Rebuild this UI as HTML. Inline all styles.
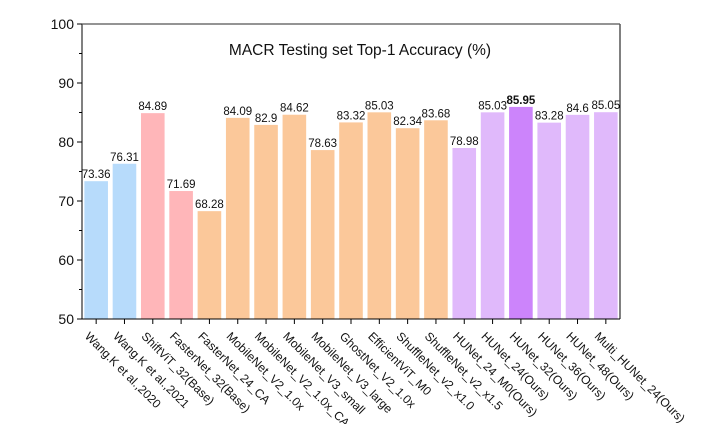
<!DOCTYPE html>
<html><head><meta charset="utf-8"><style>html,body{margin:0;padding:0;background:#fff}svg{display:block}</style></head><body>
<svg width="701" height="424" xmlns="http://www.w3.org/2000/svg" font-family="Liberation Sans, Arial, sans-serif">
<rect width="701" height="424" fill="#fff"/>
<g>
<rect x="84.36" y="181.18" width="23.6" height="137.82" fill="#b7dbfb"/>
<rect x="112.67" y="163.77" width="23.6" height="155.23" fill="#b7dbfb"/>
<rect x="140.99" y="113.15" width="23.6" height="205.85" fill="#ffb6b9"/>
<rect x="169.31" y="191.03" width="23.6" height="127.97" fill="#ffb6b9"/>
<rect x="197.62" y="211.15" width="23.6" height="107.85" fill="#fbc89a"/>
<rect x="225.94" y="117.87" width="23.6" height="201.13" fill="#fbc89a"/>
<rect x="254.25" y="124.89" width="23.6" height="194.11" fill="#fbc89a"/>
<rect x="282.57" y="114.74" width="23.6" height="204.26" fill="#fbc89a"/>
<rect x="310.88" y="150.08" width="23.6" height="168.92" fill="#fbc89a"/>
<rect x="339.20" y="122.41" width="23.6" height="196.59" fill="#fbc89a"/>
<rect x="367.52" y="112.32" width="23.6" height="206.68" fill="#fbc89a"/>
<rect x="395.83" y="128.19" width="23.6" height="190.81" fill="#fbc89a"/>
<rect x="424.15" y="120.29" width="23.6" height="198.71" fill="#fbc89a"/>
<rect x="452.46" y="148.02" width="23.6" height="170.98" fill="#e0b9fb"/>
<rect x="480.78" y="112.32" width="23.6" height="206.68" fill="#e0b9fb"/>
<rect x="509.09" y="106.89" width="23.6" height="212.11" fill="#cc84fb"/>
<rect x="537.41" y="122.65" width="23.6" height="196.35" fill="#e0b9fb"/>
<rect x="565.73" y="114.86" width="23.6" height="204.14" fill="#e0b9fb"/>
<rect x="594.04" y="112.20" width="23.6" height="206.80" fill="#e0b9fb"/>
</g>
<g font-size="11.5" text-anchor="middle" fill="#111">
<text x="96.16" y="178.18">73.36</text>
<text x="124.47" y="160.77">76.31</text>
<text x="152.79" y="110.15">84.89</text>
<text x="181.11" y="188.03">71.69</text>
<text x="209.42" y="208.15">68.28</text>
<text x="237.74" y="114.87">84.09</text>
<text x="266.05" y="121.89">82.9</text>
<text x="294.37" y="111.74">84.62</text>
<text x="322.68" y="147.08">78.63</text>
<text x="351.00" y="119.41">83.32</text>
<text x="379.32" y="109.32">85.03</text>
<text x="407.63" y="125.19">82.34</text>
<text x="435.95" y="117.29">83.68</text>
<text x="464.26" y="145.02">78.98</text>
<text x="492.58" y="109.32">85.03</text>
<text x="520.89" y="103.89" font-weight="bold">85.95</text>
<text x="549.21" y="119.65">83.28</text>
<text x="577.53" y="111.86">84.6</text>
<text x="605.84" y="109.20">85.05</text>
</g>
<g stroke="#000" stroke-width="1">
<line x1="96.16" y1="319" x2="96.16" y2="324"/><line x1="124.47" y1="319" x2="124.47" y2="324"/>
<line x1="152.79" y1="319" x2="152.79" y2="324"/><line x1="181.11" y1="319" x2="181.11" y2="324"/>
<line x1="209.42" y1="319" x2="209.42" y2="324"/><line x1="237.74" y1="319" x2="237.74" y2="324"/>
<line x1="266.05" y1="319" x2="266.05" y2="324"/><line x1="294.37" y1="319" x2="294.37" y2="324"/>
<line x1="322.68" y1="319" x2="322.68" y2="324"/><line x1="351.00" y1="319" x2="351.00" y2="324"/>
<line x1="379.32" y1="319" x2="379.32" y2="324"/><line x1="407.63" y1="319" x2="407.63" y2="324"/>
<line x1="435.95" y1="319" x2="435.95" y2="324"/><line x1="464.26" y1="319" x2="464.26" y2="324"/>
<line x1="492.58" y1="319" x2="492.58" y2="324"/><line x1="520.89" y1="319" x2="520.89" y2="324"/>
<line x1="549.21" y1="319" x2="549.21" y2="324"/><line x1="577.53" y1="319" x2="577.53" y2="324"/>
<line x1="605.84" y1="319" x2="605.84" y2="324"/>
<line x1="77" y1="319" x2="82" y2="319"/><line x1="79" y1="289.5" x2="82" y2="289.5"/>
<line x1="77" y1="260" x2="82" y2="260"/><line x1="79" y1="230.5" x2="82" y2="230.5"/>
<line x1="77" y1="201" x2="82" y2="201"/><line x1="79" y1="171.5" x2="82" y2="171.5"/>
<line x1="77" y1="142" x2="82" y2="142"/><line x1="79" y1="112.5" x2="82" y2="112.5"/>
<line x1="77" y1="83" x2="82" y2="83"/><line x1="79" y1="53.5" x2="82" y2="53.5"/>
<line x1="77" y1="24" x2="82" y2="24"/>
<line x1="82" y1="24" x2="82" y2="319"/>
<line x1="620" y1="24" x2="620" y2="319"/>
<line x1="77" y1="319" x2="620" y2="319"/>
</g>
<line x1="82" y1="24" x2="620" y2="24" stroke="#555" stroke-width="1.2"/>
<g font-size="14" text-anchor="end" fill="#111">
<text x="74" y="324">50</text><text x="74" y="265">60</text><text x="74" y="206">70</text>
<text x="74" y="147">80</text><text x="74" y="88">90</text><text x="74" y="29">100</text>
</g>
<text x="360" y="55" font-size="15.5" text-anchor="middle" fill="#111">MACR Testing set Top-1 Accuracy (%)</text>
<g font-size="12" fill="#111">
<text transform="translate(84.16,337) rotate(45)">Wang.K et al.,2020</text>
<text transform="translate(112.47,337) rotate(45)">Wang.K et al.,2021</text>
<text transform="translate(140.79,337) rotate(45)">ShiftViT_32(Base)</text>
<text transform="translate(169.11,337) rotate(45)">FasterNet_32(Base)</text>
<text transform="translate(197.42,337) rotate(45)">FasterNet_24_CA</text>
<text transform="translate(225.74,337) rotate(45)">MobileNet_V2_1.0x</text>
<text transform="translate(254.05,337) rotate(45)">MobileNet_V2_1.0x_CA</text>
<text transform="translate(282.37,337) rotate(45)">MobileNet_V3_small</text>
<text transform="translate(310.68,337) rotate(45)">MobileNet_V3_large</text>
<text transform="translate(339.00,337) rotate(45)">GhostNet_V2_1.0x</text>
<text transform="translate(367.32,337) rotate(45)">EfficientViT_M0</text>
<text transform="translate(395.63,337) rotate(45)">ShuffleNet_v2_x1.0</text>
<text transform="translate(423.95,337) rotate(45)">ShuffleNet_v2_x1.5</text>
<text transform="translate(452.26,337) rotate(45)">HUNet_24_M0(Ours)</text>
<text transform="translate(480.58,337) rotate(45)">HUNet_24(Ours)</text>
<text transform="translate(508.89,337) rotate(45)">HUNet_32(Ours)</text>
<text transform="translate(537.21,337) rotate(45)">HUNet_36(Ours)</text>
<text transform="translate(565.53,337) rotate(45)">HUNet_48(Ours)</text>
<text transform="translate(593.84,337) rotate(45)">Multi_HUNet_24(Ours)</text>
</g>
</svg>
</body></html>
